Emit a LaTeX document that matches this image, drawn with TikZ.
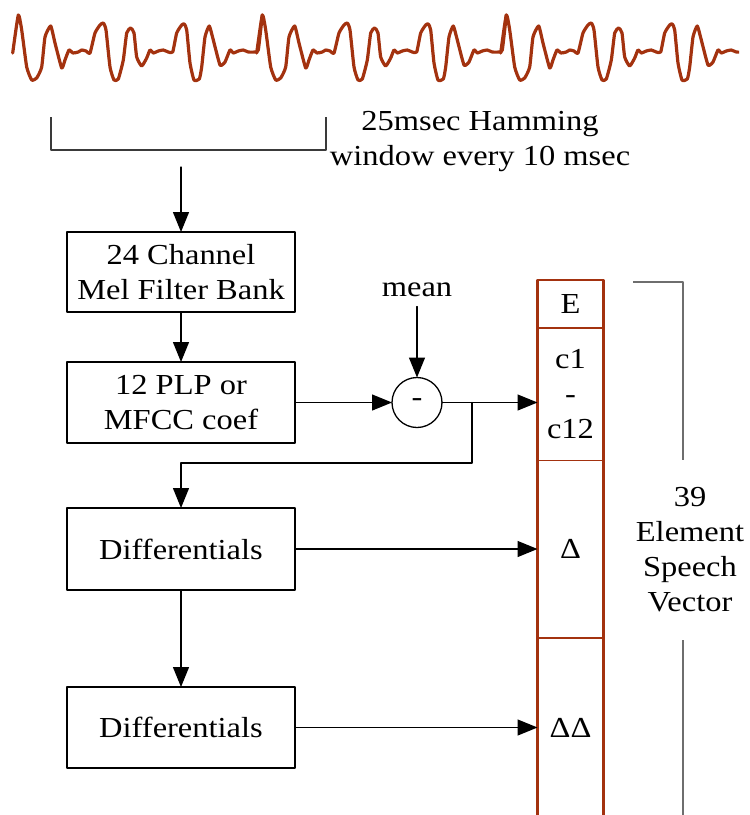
\documentclass[tikz,border=0pt]{standalone}
\usepackage{fontspec}
\setmainfont{Liberation Serif}[FakeStretch=1.12]
\usepackage{tikz}
\usetikzlibrary{arrows.meta,positioning}
\definecolor{rust}{HTML}{A3320F}
\definecolor{darkgrey}{HTML}{3A3A3A}
\definecolor{midgrey}{HTML}{6E6E6E}
\tikzset{
    every picture/.style={line cap=round,line join=round},
    procbox/.style={draw=black,line width=1.6pt,minimum width=228pt,
      inner sep=2pt,outer sep=0pt,align=center},
    vcell/.style={minimum width=66pt,inner sep=0pt,outer sep=0pt,align=center},
    subnode/.style={draw=black,circle,line width=1.3pt,minimum size=50pt,
      inner sep=0pt,outer sep=0pt},
    flowarrow/.style={-{Triangle[length=20pt,width=16pt]},draw=black,
      line width=1.3pt},
    wave/.style={draw=rust,line width=3.2pt},
    vecline/.style={draw=rust,line width=2.8pt},
    bracketline/.style={line width=1.8pt,line cap=butt}
}

\begin{document}
\begin{tikzpicture}[x=1pt,y=-1pt,font=\fontsize{29}{35}\selectfont]
    \useasboundingbox (0,0) rectangle (750,815);
    % speech signal
    \begin{scope}
      \clip (0,0) rectangle (739,100);
      \foreach \k in {0,1,2}{
        \draw[wave,shift={(\k*244+18.3,0)}] plot[smooth,tension=0.3] coordinates {
          (-5.6,53) (0,15) (3.4,30) (8.4,67) (13.4,80) (18.4,78) (23.4,67)
          (26.7,37) (32.4,26) (36.7,43) (43.4,68) (46.7,60) (50.7,50)
          (54.7,53) (60,52) (63.4,50) (67.7,51) (71.7,53) (76.7,33)
          (81.7,25) (85,23) (87.7,30) (91.7,67) (95.7,80) (100,79) (105,60)
          (108.4,33) (112.4,28) (115.7,33) (118.4,57) (123.4,66) (128.4,58)
          (131.7,50) (135,53) (140,51) (145,50) (150,52) (154.4,52)
          (158.4,33) (163.4,25) (166,24) (168.4,30) (171.7,63) (175.7,80)
          (181,79) (183.4,67) (186.7,37) (191,26) (195,40) (201.7,65)
          (206.7,62) (211.7,50) (215,53) (220,51) (225,50) (230,52)
          (236.7,52) (240,50) (244,15)};
      }
    \end{scope}
    % analysis window
    \draw[bracketline,darkgrey] (51,117) |- (326,150) -- (326,117);
    \node[align=center] (win) at (480,141.5) {25msec Hamming\\window every 10 msec};
    \coordinate (winout) at (181,167);
    % processing chain
    \node[procbox,minimum height=80pt] (filt) at (181,272) {24 Channel\\Mel Filter Bank};
    \node[procbox,minimum height=81pt,below=50pt of filt] (coef) {12 PLP or\\MFCC coef};
    \node[procbox,minimum height=82pt] (diff1) at (181,549) {Differentials};
    \node[procbox,minimum height=81pt,below=97pt of diff1] (diff2) {Differentials};
    \node[subnode] (sub) at (417,402.5) {-};
    \node (mean) at (417,290) {mean};
    % speech vector
    \node[vcell,minimum height=48pt] (E) at (570.5,304) {E};
    \node[vcell,minimum height=132pt,below=0pt of E] (cc) {c1\\-\\c12};
    \node[vcell,minimum height=178pt,below=0pt of cc] (d) {Δ};
    \node[vcell,minimum height=180pt,below=0pt of d] (dd) {ΔΔ};
    \draw[vecline] (E.north west) rectangle (dd.south east);
    \draw[vecline] (E.south west) -- (E.south east);
    \draw[vecline] (d.south west) -- (d.south east);
    \draw[rust,line width=0.9pt] (cc.south west) -- (cc.south east);
    \node[align=center] (lbl) at (690,549.5) {39\\Element\\Speech\\Vector};
    \draw[bracketline,midgrey] (633,282) -| (683,460);
    \draw[bracketline,midgrey] (683,640) -- (683,820);
    % connections
    \coordinate (tap) at (472,402.5);
    \coordinate (bend) at (472,463);
    \draw[flowarrow] (winout) -- (filt.north);
    \draw[flowarrow] (filt) -- (coef);
    \draw[flowarrow] (coef.east) -- (sub.west);
    \draw[flowarrow,shorten <=6pt] (mean.south) -- (sub.north);
    \draw[flowarrow] (sub.east) -- (sub.east -| E.west);
    \draw[flowarrow] (tap) -- (bend) -| (diff1.north);
    \draw[flowarrow] (diff1.east) -- (diff1.east -| d.west);
    \draw[flowarrow] (diff1) -- (diff2);
    \draw[flowarrow] (diff2.east) -- (diff2.east -| dd.west);
\end{tikzpicture}
\end{document}
